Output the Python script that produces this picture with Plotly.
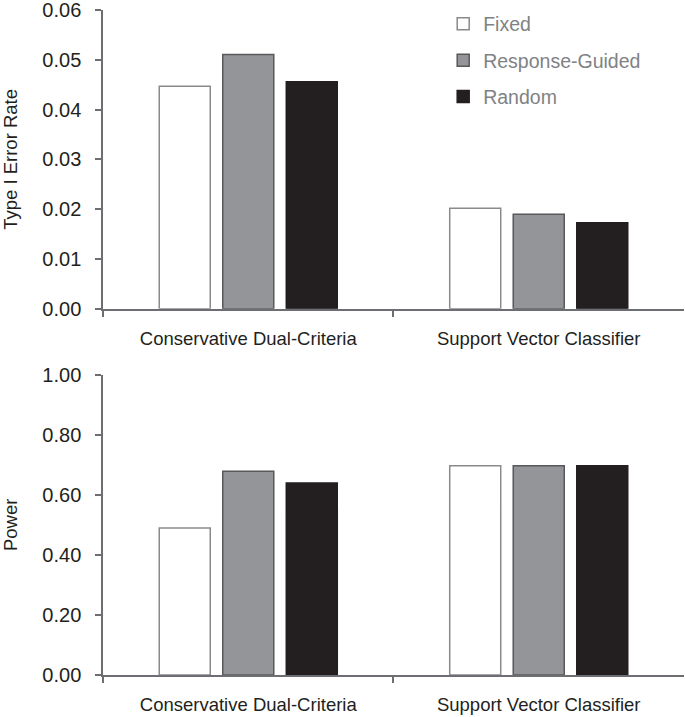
import plotly.graph_objects as go
from plotly.subplots import make_subplots

methods = ["Conservative Dual-Criteria", "Support Vector Classifier"]
series_names = ["Fixed", "Response-Guided", "Random"]
type1_error = {
    "Fixed": [0.0447, 0.0202],
    "Response-Guided": [0.0511, 0.0190],
    "Random": [0.0456, 0.0173],
}
power = {
    "Fixed": [0.490, 0.697],
    "Response-Guided": [0.679, 0.697],
    "Random": [0.640, 0.697],
}
top_ticks = [0.00, 0.01, 0.02, 0.03, 0.04, 0.05, 0.06]
bottom_ticks = [0.0, 0.2, 0.4, 0.6, 0.8, 1.0]

fills = {"Fixed": "#ffffff", "Response-Guided": "#939598", "Random": "#231f20"}
edges = {"Fixed": "#8a8a8a", "Response-Guided": "#58595b", "Random": "#231f20"}

FONT = "Liberation Sans, Arial, sans-serif"

fig = make_subplots(rows=2, cols=1)
for name in series_names:
    fig.add_trace(go.Bar(x=methods, y=type1_error[name], name=name, legendgroup=name,
                         marker=dict(color=fills[name], line=dict(color=edges[name], width=1.5))),
                  row=1, col=1)
    fig.add_trace(go.Bar(x=methods, y=power[name], name=name, legendgroup=name, showlegend=False,
                         marker=dict(color=fills[name], line=dict(color=edges[name], width=1.5))),
                  row=2, col=1)

tick_font = dict(family=FONT, size=20, color="#231f20")
cat_font = dict(family=FONT, size=18.5, color="#231f20")
common_x = dict(showline=True, linecolor="#6d6e71", linewidth=1.5, ticks="outside", ticklen=6,
                tickcolor="#6d6e71", tickwidth=1.5, tickson="boundaries", tickfont=cat_font,
                ticklabelstandoff=12, domain=[0.1504, 0.9985], showgrid=False, zeroline=False)
common_y = dict(showline=True, linecolor="#6d6e71", linewidth=1.5, ticks="outside", ticklen=6,
                tickcolor="#6d6e71", tickwidth=1.5, tickfont=tick_font, showgrid=False,
                zeroline=False, ticklabelstandoff=10, ticklabeloverflow="allow",
                title_font=dict(family=FONT, size=18.5, color="#231f20"))

fig.update_xaxes(**common_x)
fig.update_yaxes(**common_y)
fig.update_xaxes(anchor="y", row=1, col=1)
fig.update_xaxes(anchor="y2", row=2, col=1)
fig.update_yaxes(range=[0, 0.06002], tickvals=top_ticks, tickformat=".2f", domain=[0.5507, 1.0],
                 title_text="Type I Error Rate", title_standoff=22, row=1, col=1)
fig.update_yaxes(range=[0, 1.0003], tickvals=bottom_ticks, tickformat=".2f", domain=[0.0, 0.4515],
                 title_text="Power", title_standoff=22, row=2, col=1)

fig.update_layout(
    width=685, height=717,
    margin=dict(l=0, r=0, t=10, b=41.5, autoexpand=False),
    paper_bgcolor="white", plot_bgcolor="white",
    barmode="group", bargap=0.344, bargroupgap=0.197,
    showlegend=True,
    legend=dict(x=0.647, y=1.008, xanchor="left", yanchor="top", bgcolor="rgba(0,0,0,0)",
                font=dict(family=FONT, size=19.5, color="#808285"),
                traceorder="grouped", tracegroupgap=8, itemwidth=30),
    font=dict(family=FONT),
)

fig.write_html("out.html", config={"displayModeBar": False},
               post_script="document.body.style.margin='0px';")
